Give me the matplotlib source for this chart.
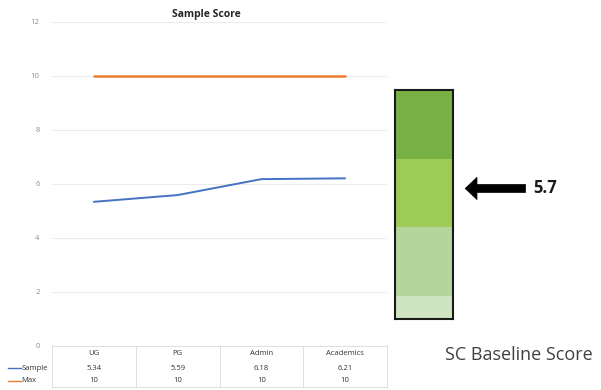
import matplotlib
matplotlib.use("Agg")
import matplotlib.pyplot as plt

# chart data
categories = ["UG", "PG", "Admin", "Academics"]
sample = [5.34, 5.59, 6.18, 6.21]
max_score = [10, 10, 10, 10]
y_ticks = [0, 2, 4, 6, 8, 10, 12]

# baseline gauge (0-10 scale)
band_edges = [0, 1, 4, 7, 10]
band_colors = ["#cfe4c0", "#b4d59b", "#9dcb57", "#77b146"]
baseline = 5.7

plt.rcParams['font.family'] = ['Open Sans', 'DejaVu Sans']

W, H = 601, 390
fig = plt.figure(figsize=(W / 100, H / 100), dpi=100)

# main line chart
ax = fig.add_axes([52 / W, 44 / H, 335 / W, 324 / H])
x = list(range(len(categories)))
ax.plot(x, sample, color="#4472c4", lw=1.4, solid_capstyle='round')
ax.plot(x, max_score, color="#ed7d31", lw=1.8, solid_capstyle='round')
ax.set_xlim(-0.5, len(categories) - 0.5)
ax.set_ylim(0, 12)
ax.set_yticks(y_ticks)
ax.set_xticks([])
ax.yaxis.grid(color="#ececec", lw=0.8)
ax.set_axisbelow(True)
for s in ax.spines.values():
    s.set_visible(False)
ax.tick_params(axis='y', length=0, pad=9, labelsize=5.5, labelcolor="#8c8c8c")

fig.text(206 / W, 375 / H, "Sample Score", ha='center', va='center',
         fontsize=7.5, fontweight='bold', color="#262626")

# data table under the axis
row_y = [-0.022, -0.068, -0.108]
bottom = -0.127
tr = ax.get_xaxis_transform()
line_kw = dict(color="#d9d9d9", lw=0.6, clip_on=False, transform=tr)
ax.plot([-0.5, len(categories) - 0.5], [0, 0], **line_kw)
ax.plot([-0.5, len(categories) - 0.5], [bottom, bottom], **line_kw)
for i in range(len(categories) + 1):
    ax.plot([i - 0.5, i - 0.5], [0, bottom], **line_kw)
txt_kw = dict(ha='center', va='center', fontsize=5.5, color="#333333",
              transform=tr, clip_on=False)
for i, cat in enumerate(categories):
    ax.text(i, row_y[0], cat, **txt_kw)
    ax.text(i, row_y[1], f"{sample[i]:.2f}", **txt_kw)
    ax.text(i, row_y[2], f"{max_score[i]}", **txt_kw)
for label, color, yy in [("Sample", "#4472c4", row_y[1]), ("Max", "#ed7d31", row_y[2])]:
    ax.plot([-0.131, -0.092], [yy, yy], color=color, lw=1.0,
            transform=ax.transAxes, clip_on=False)
    ax.text(-0.092, yy, label, ha='left', va='center', fontsize=5.5,
            color="#333333", transform=ax.transAxes, clip_on=False)

# baseline gauge
gx = fig.add_axes([395 / W, 71 / H, 58 / W, 229 / H])
for lo, hi, c in zip(band_edges[:-1], band_edges[1:], band_colors):
    gx.bar(0.5, hi - lo, bottom=lo, width=1, color=c, lw=0)
gx.set_xlim(0, 1)
gx.set_ylim(band_edges[0], band_edges[-1])
gx.set_xticks([])
gx.set_yticks([])
for s in gx.spines.values():
    s.set_color("#1a1a1a")
    s.set_linewidth(1.5)

gx.annotate('', xy=(1.21, baseline), xycoords=('axes fraction', 'data'),
            xytext=(2.25, baseline), textcoords=('axes fraction', 'data'),
            arrowprops=dict(arrowstyle="simple,head_length=0.85,head_width=1.6,tail_width=0.58",
                            mutation_scale=10, fc="black", ec="black", lw=0.5,
                            shrinkA=0, shrinkB=0))
gx.text(2.38, baseline, f"{baseline}", transform=gx.get_yaxis_transform(),
        ha='left', va='center', fontsize=12, fontweight='bold', color="#1a1a1a")

fig.text(445 / W, 35 / H, "SC Baseline Score", ha='left', va='center',
         fontsize=13, color="#404040")

fig.savefig("out.png", dpi=100)
